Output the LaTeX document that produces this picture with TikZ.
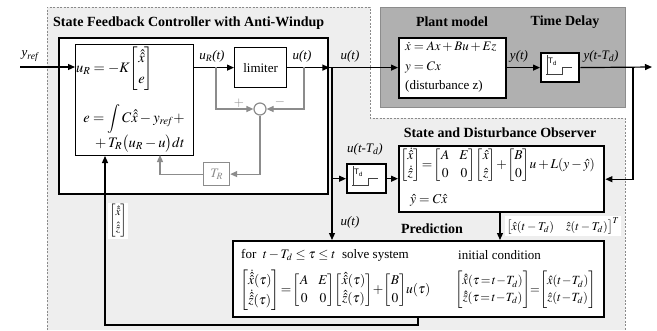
\documentclass[tikz,border=0pt]{standalone}
\usepackage{amsmath}
\usepackage{mathptmx}
\usepackage[no-math]{fontspec}
\setmainfont{Liberation Serif}
\setsansfont{Liberation Sans}
\usetikzlibrary{arrows.meta,calc}

\definecolor{regionfill}{HTML}{EEEEEE}
\definecolor{plantfill}{HTML}{B0B0B0}
\definecolor{dashgray}{HTML}{8A8A8A}
\definecolor{awgray}{HTML}{8C8C8C}

\tikzset{
  thickbox/.style={draw=black, line width=2.4pt, fill=white, inner sep=0pt, anchor=north west},
  thinbox/.style={draw=black, line width=1pt, fill=white, inner sep=0pt, anchor=north west},
  graybox/.style={draw=awgray, line width=1.2pt, fill=white, inner sep=0pt, anchor=north west},
  conn/.style={line width=1.2pt, -{Triangle[length=7pt,width=6pt]}},
  gconn/.style={draw=awgray, line width=1.2pt, -{Triangle[length=7pt,width=6pt]}},
  title/.style={font=\fontsize{14}{16}\selectfont\bfseries, inner sep=0pt},
  body/.style={font=\fontsize{13}{15}\selectfont, inner sep=0pt},
  eqbig/.style={font=\fontsize{14.5}{17}\selectfont, inner sep=0pt},
  eqmid/.style={font=\fontsize{13.5}{16}\selectfont, inner sep=0pt},
  eqsmall/.style={font=\fontsize{12.5}{15}\selectfont, inner sep=0pt},
  siglabel/.style={font=\fontsize{13}{15}\selectfont\itshape, inner sep=0pt},
  icon/.style={draw=black!75, line width=0.8pt},
  whitelabel/.style={fill=white, inner sep=1.5pt},
}

% step symbol drawn inside a time-delay block
\newcommand{\delayicon}[1]{%
  \draw[icon] ([shift={(7,3)}]#1.north west) -- ([shift={(7,23)}]#1.north west);
  \draw[icon] ([shift={(6,22)}]#1.north west) -- ++(16,0) -- ++(0,-7) -- ++(10,0);
  \node[font=\sffamily\fontsize{8}{8}\selectfont, inner sep=0pt]
    at ([shift={(12.5,10)}]#1.north west) {T\textsubscript{d}};
}
% tight equals sign used inside the initial condition
\newcommand{\teq}{\mathrel{\mkern-2mu=\mkern-2mu}}

\renewcommand{\arraystretch}{1.12}

\begin{document}
\begin{tikzpicture}[x=1pt,y=-1pt]
\useasboundingbox (0,0) rectangle (657,330);

% shaded regions
\fill[regionfill] (47,7) -- (370,7) -- (370,118) -- (625,118) -- (625,330) -- (47,330) -- cycle;
\draw[dashgray, line width=0.8pt, dash pattern=on 2pt off 1.5pt]
  (47,330) -- (47,7) -- (370,7) -- (370,118) -- (625,118) -- (625,330);
\draw[awgray, line width=0.8pt, fill=plantfill] (380,7) rectangle (625,107);

% titles
\node[title, anchor=west] at (53,23) {State Feedback Controller with Anti-Windup};
\node[title] at (452,22) {Plant model};
\node[title] at (565,22) {Time Delay};
\node[title] at (500,133) {State and Disturbance Observer};
\node[title] at (432,229) {Prediction};

% controller
\node[thickbox, minimum width=269pt, minimum height=156pt] (ctrl) at (58,37) {};
\node[thinbox, minimum width=118pt, minimum height=111pt] (inner) at (75,44) {};
\node[eqbig, anchor=west] (eqa) at (76,69)
  {$u_R = -K\!\begin{bmatrix}\hat{\hat{x}}\\[2pt] e\end{bmatrix}$};
\node[eqbig] (eqb) at (134,119) {$\displaystyle e = \int C\hat{\hat{x}} - y_{\mathit{ref}} +$};
\node[eqbig] (eqc) at (140,144) {$+\,T_R\bigl(u_R - u\bigr)dt$};
\node[thinbox, line width=1.2pt, minimum width=52pt, minimum height=40pt] (lim) at (234,47) {};
\node[body] at (lim.center) {limiter};
\node[circle, draw=awgray, line width=1.2pt, fill=white, minimum size=12pt, inner sep=0pt] (sum) at (260,109) {};
\node[graybox, minimum width=26pt, minimum height=23pt] (TR) at (203,162) {};
\node[body, text=awgray] at (TR.center) {$T_R$};
\node[body, text=awgray] at (239,103) {$+$};
\node[body, text=awgray] at (280,102) {$-$};

% plant and delays
\node[thickbox, minimum width=107pt, minimum height=60pt] (plant) at (398,37) {};
\node[body, anchor=west] at (405,47) {$\dot{x} = Ax + Bu + Ez$};
\node[body, anchor=west] at (405,67) {$y = Cx$};
\node[body, anchor=west] at (405,86) {(disturbance z)};
\node[thickbox, minimum width=38pt, minimum height=29pt] (td) at (540,52) {};
\delayicon{td}
\node[thickbox, minimum width=39pt, minimum height=29pt] (udel) at (346,163) {};
\delayicon{udel}

% observer
\node[thickbox, minimum width=205pt, minimum height=66pt] (obs) at (398,145) {};
\node[eqmid, anchor=west] at (400,165)
  {$\begin{bmatrix}\dot{\hat{x}}\\ \dot{\hat{z}}\end{bmatrix}
   \!=\! \begin{bmatrix}A & E\\ 0 & 0\end{bmatrix}\!
     \begin{bmatrix}\hat{x}\\ \hat{z}\end{bmatrix}
   \!+\! \begin{bmatrix}B\\ 0\end{bmatrix}\!u + L(y-\hat{y})$};
\node[eqmid, anchor=west] at (410,200) {$\hat{y} = C\hat{x}$};

% prediction
\node[thickbox, minimum width=371pt, minimum height=76pt] (pred) at (232,240) {};
\node[body, anchor=west] at (241,255)
  {for\ \ $t-T_d \le \tau \le t$\ \ solve system};
\node[body, anchor=west] at (458,255) {initial condition};
\node[eqmid, anchor=west] at (240,290)
  {$\begin{bmatrix}\dot{\hat{\hat{x}}}(\tau)\\ \dot{\hat{\hat{z}}}(\tau)\end{bmatrix}
   \!=\! \begin{bmatrix}A & E\\ 0 & 0\end{bmatrix}\!
     \begin{bmatrix}\hat{\hat{x}}(\tau)\\ \hat{\hat{z}}(\tau)\end{bmatrix}
   \!+\! \begin{bmatrix}B\\ 0\end{bmatrix}\!u(\tau)$};
\node[eqsmall, anchor=west] at (455,290)
  {$\begin{bmatrix}\hat{\hat{x}}(\tau\teq t\!-\!T_d)\\ \hat{\hat{z}}(\tau\teq t\!-\!T_d)\end{bmatrix}
   \!\!=\!\! \begin{bmatrix}\hat{x}(t\!-\!T_d)\\ \hat{z}(t\!-\!T_d)\end{bmatrix}$};

% helper points for connectors
\coordinate (yrefin) at (20,67);
\coordinate (bu) at (332,67);
\coordinate (by) at (633,67);
\coordinate (yout) at (652,67);
\coordinate (ox) at (500,0);
\coordinate (px) at (418,325);
\coordinate (fbx) at (105,325);
\coordinate (awl) at (216,67);
\coordinate (awr) at (304,67);
\coordinate (fbin) at (160,155);

% signal connectors
\draw[conn] (yrefin) -- (yrefin -| inner.west);
\draw[conn] (inner.east |- lim) -- (lim.west);
\draw[conn] (lim.east) -- (lim -| ctrl.east);
\draw[conn] (lim -| ctrl.east) -- (plant.west |- lim);
\draw[conn] (bu) |- (udel.west);
\draw[conn] (udel.west -| bu) -- (pred.north -| bu);
\draw[conn] (udel.east) -- (obs.west |- udel);
\draw[conn] (plant.east |- lim) -- (td.west |- lim);
\draw[conn] (td.east |- lim) -- (yout);
\draw[conn] (by) |- (obs.east);
\draw[conn] (obs.south -| ox) -- (pred.north -| ox);
\draw[conn] (pred.south -| px) -- (px) -- (fbx) -- (fbx |- inner.south);

% anti-windup loop
\draw[gconn] (awl) |- (sum.west);
\draw[gconn] (awr) |- (sum.east);
\draw[gconn] (sum.south) |- (TR.east);
\draw[gconn] (TR.west) -| (fbin);

% signal labels
\node[siglabel] at (30,56) {y\textsubscript{ref}};
\node[siglabel] at (212,56) {u\textsubscript{R}(t)};
\node[siglabel] at (302,56) {u(t)};
\node[siglabel] at (350,56) {u(t)};
\node[siglabel] at (519,56) {y(t)};
\node[siglabel] at (601,56) {y(t-T\textsubscript{d})};
\node[siglabel] at (365,149) {u(t-T\textsubscript{d})};
\node[siglabel] at (350,222) {u(t)};
\node[whitelabel, font=\fontsize{12}{14}\selectfont] at (563,226)
  {$\bigl[\hat{x}(t-T_d)\quad \hat{z}(t-T_d)\bigr]^T$};
\node[whitelabel, font=\fontsize{11}{13}\selectfont] at (118,221)
  {$\begin{bmatrix}\hat{\hat{x}}\\[2pt] \hat{\hat{z}}\end{bmatrix}$};
\end{tikzpicture}
\end{document}
